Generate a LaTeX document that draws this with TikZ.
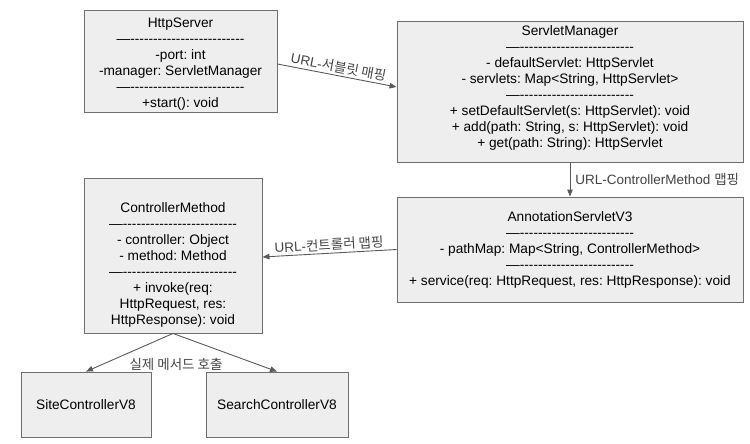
\documentclass[tikz,border=0pt]{standalone}
\usepackage{fontspec}
\newfontfamily\mainf{Liberation Sans}
\newfontfamily\kor{Noto Sans CJK KR}
\usetikzlibrary{arrows.meta}
\frenchspacing
\definecolor{boxfill}{HTML}{EEEEEE}
\definecolor{boxline}{HTML}{6E6E6E}
\definecolor{lineg}{HTML}{5A5A5A}
\definecolor{labelg}{HTML}{444444}
\newcommand{\sepl}{—-------------------------}
\tikzset{
  box/.style={draw=boxline, fill=boxfill, line width=0.9pt, inner sep=0pt},
  txt/.style={align=center, inner sep=0pt, text=black, font=\mainf\frenchspacing\fontsize{13.7}{16}\selectfont},
  conn/.style={draw=lineg, line width=0.9pt, -{Triangle[length=7pt,width=5.5pt]}},
  lbl/.style={text=labelg, inner sep=2pt, font=\mainf\frenchspacing\fontsize{13.5}{15}\selectfont}
}
\begin{document}
\begin{tikzpicture}[x=1pt,y=-1pt]
\useasboundingbox (0,0) rectangle (750,444);
% boxes
\node[box, minimum width=193pt, minimum height=102pt] (hs) at (180.5,61) {};
\node[txt] (hst) at (180.5,64.5) {HttpServer\\\sepl\\-port: int\\-manager: ServletManager\\\sepl\\+start(): void};

\node[box, minimum width=346pt, minimum height=141pt] (sm) at (570,91.5) {};
\node[txt] (smt) at (570,87.5) {ServletManager\\\sepl\\- defaultServlet: HttpServlet\\- servlets: Map<String, HttpServlet>\\\sepl\\+ setDefaultServlet(s: HttpServlet): void\\+ add(path: String, s: HttpServlet): void\\+ get(path: String): HttpServlet};

\node[box, minimum width=178pt, minimum height=155pt] (cm) at (173,255.5) {};
\node[txt] (cmt) at (173,264.5) {ControllerMethod\\\sepl\\- controller: Object\\- method: Method\\\sepl\\+ invoke(req:\\HttpRequest, res:\\HttpResponse): void};

\node[box, minimum width=346pt, minimum height=105pt] (am) at (570,249.5) {};
\node[txt] (amt) at (570,249.5) {AnnotationServletV3\\\sepl\\- pathMap: Map<String, ControllerMethod>\\\sepl\\+ service(req: HttpRequest, res: HttpResponse): void};

\node[box, minimum width=130pt, minimum height=65pt] (site) at (86,404.5) {};
\node[txt] (sitet) at (86,404.5) {SiteControllerV8};

\node[box, minimum width=142pt, minimum height=65pt] (search) at (277,404.5) {};
\node[txt] (searcht) at (277,404.5) {SearchControllerV8};

% connectors
\draw[conn] ([yshift=-3pt]hs.east) -- node[lbl, midway, above, sloped] (l1) {URL-\kor{서블릿 매핑}} ([yshift=4.5pt]sm.west);
\draw[conn] (sm.south) -- node[lbl, midway, right, inner sep=5pt] (l2) {URL-ControllerMethod \kor{맵핑}} (am.north);
\draw[conn, {Triangle[length=7pt,width=5.5pt]}-] ([yshift=-1.5pt]cm.east) -- node[lbl, midway, above, sloped] (l3) {URL-\kor{컨트롤러 맵핑}} (am.west);
\draw[conn] (cm.south) -- (site.north);
\draw[conn] (cm.south) -- (search.north);
\node[lbl] (l4) at (176,364) {\kor{실제 메서드 호출}};
\end{tikzpicture}
\end{document}
